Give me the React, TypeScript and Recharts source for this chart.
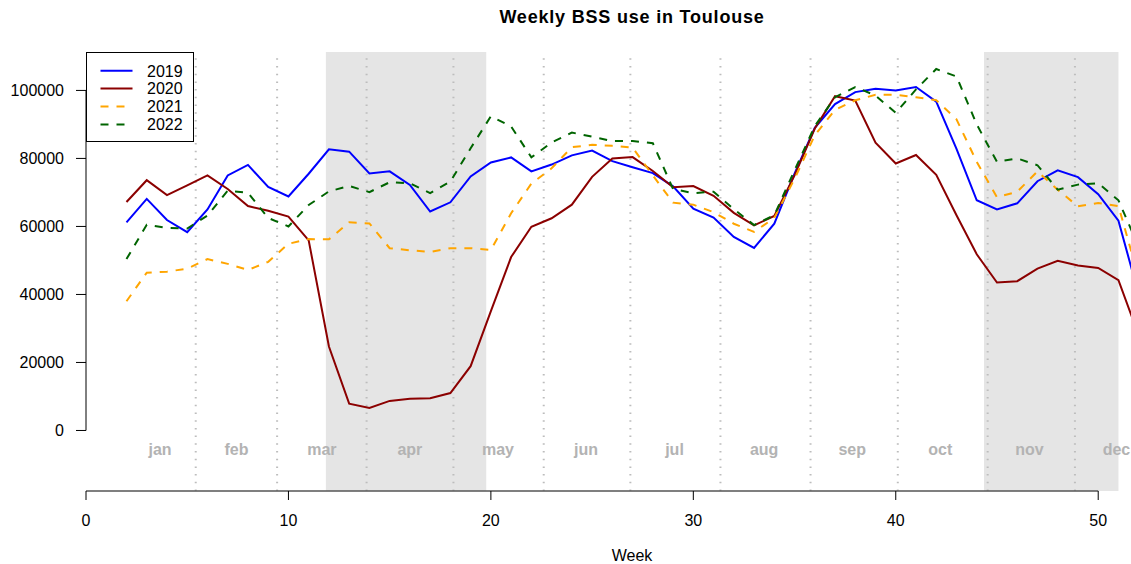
import { LineChart, Line, XAxis, YAxis, ReferenceArea, ReferenceLine, ReferenceDot } from "recharts";

const WEEKS = [2, 3, 4, 5, 6, 7, 8, 9, 10, 11, 12, 13, 14, 15, 16, 17, 18, 19, 20, 21, 22, 23, 24, 25, 26, 27, 28, 29, 30, 31, 32, 33, 34, 35, 36, 37, 38, 39, 40, 41, 42, 43, 44, 45, 46, 47, 48, 49, 50, 51, 52];

const Y2019 = [61200, 68100, 61900, 58300, 65000, 75000, 78100, 71600, 68800, 75500, 82700, 82000, 75600, 76200, 72200, 64400, 67100, 74700, 78800, 80300, 76200, 78200, 80900, 82300, 79200, 77400, 75700, 71800, 65200, 62600, 56900, 53700, 60800, 75500, 89000, 96000, 99500, 100500, 100000, 101000, 96700, 82800, 67700, 65000, 66800, 73300, 76500, 74500, 69500, 61700, 40000];
const Y2020 = [67200, 73600, 69200, 72100, 75000, 71000, 66000, 64600, 62900, 55900, 24700, 7900, 6600, 8700, 9300, 9500, 11000, 18900, 35100, 51000, 59900, 62400, 66400, 74600, 80000, 80400, 76300, 71500, 71900, 69000, 64000, 60300, 63100, 75000, 88800, 98300, 97000, 84600, 78500, 81000, 75200, 63300, 51800, 43500, 43900, 47600, 49900, 48500, 47800, 44200, 28000];
const Y2021 = [38000, 46400, 46700, 47600, 50400, 49000, 47200, 49600, 54900, 56300, 56200, 61200, 60900, 53600, 53000, 52500, 53600, 53600, 53100, 63900, 72600, 77100, 83300, 84000, 83700, 83200, 75000, 67000, 66400, 64200, 60800, 58400, 62500, 74000, 86800, 94300, 97100, 98700, 98700, 98000, 97100, 91500, 79000, 68600, 70200, 76200, 70800, 65900, 66900, 66000, 45000];
const Y2022 = [50400, 60500, 59600, 59400, 63200, 70500, 69900, 62500, 60000, 66300, 70300, 71900, 70100, 73000, 72700, 69800, 73200, 83000, 92400, 89400, 80300, 84700, 87600, 86400, 85100, 85100, 84500, 71000, 69800, 70200, 65100, 60400, 63300, 76500, 89500, 98000, 101000, 98500, 93400, 100300, 106300, 104100, 90000, 79000, 80000, 78000, 70800, 72300, 72700, 67700, 54000];

const SERIES = [
  { key: "y2019", name: "2019", values: Y2019, color: "#0000ff", dash: undefined as string | undefined },
  { key: "y2020", name: "2020", values: Y2020, color: "#8b0000", dash: undefined as string | undefined },
  { key: "y2021", name: "2021", values: Y2021, color: "#ffa500", dash: "8 8" },
  { key: "y2022", name: "2022", values: Y2022, color: "#006400", dash: "8 8" },
];

const MONTHS = ["jan", "feb", "mar", "apr", "may", "jun", "jul", "aug", "sep", "oct", "nov", "dec"];
const MONTH_POS = [3.66, 7.43, 11.65, 16.0, 20.35, 24.7, 29.07, 33.5, 37.85, 42.2, 46.6, 50.9];
const MONTH_BOUNDS = [5.42, 9.44, 13.86, 18.15, 22.61, 26.89, 31.34, 35.79, 40.1, 44.54, 48.85];
const SHADED = [
  [11.85, 19.77],
  [44.36, 51.0],
];
const MONTH_Y = -5500;

const X_TICKS = [0, 10, 20, 30, 40, 50];
const Y_TICKS = [0, 20000, 40000, 60000, 80000, 100000];
const X_DOMAIN: [number, number] = [0, 51.62];
const Y_DOMAIN: [number, number] = [-17800, 111300];

const data = WEEKS.map((week, i) => {
  const row: Record<string, number> = { week };
  SERIES.forEach((s) => (row[s.key] = s.values[i]));
  return row;
});

const FONT = '"Liberation Sans", Arial, Helvetica, sans-serif';

export default function App() {
  return (
    <div style={{ position: "absolute", left: 0, top: 0, width: 1131, height: 564, fontFamily: FONT, background: "#fff" }}>
      <LineChart width={1131} height={564} data={data} margin={{ top: 52, right: 0, bottom: 0, left: 0 }}>
        {SHADED.map(([a, b], i) => (
          <ReferenceArea key={"s" + i} x1={a} x2={b} y1={Y_DOMAIN[0]} y2={Y_DOMAIN[1]} fill="#e5e5e5" fillOpacity={1} stroke="none" />
        ))}
        {MONTH_BOUNDS.map((v) => (
          <ReferenceLine key={"b" + v} x={v} stroke="#bdbdbd" strokeWidth={2} strokeDasharray="1.5 6.2" />
        ))}
        {MONTHS.map((m, i) => (
          <ReferenceDot
            key={m}
            x={MONTH_POS[i]}
            y={MONTH_Y}
            r={1}
            fill="none"
            stroke="none"
            ifOverflow="visible"
            label={{ value: m, position: "center", fill: "#b3b3b3", fontSize: 16, fontWeight: "bold" }}
          />
        ))}
        <XAxis
          type="number"
          dataKey="week"
          domain={X_DOMAIN}
          allowDataOverflow
          ticks={X_TICKS}
          height={73}
          axisLine={false}
          tickSize={9}
          tickMargin={15}
          tickLine={{ stroke: "#000" }}
          tick={{ fill: "#000", fontSize: 16 }}
        />
        <YAxis
          type="number"
          domain={Y_DOMAIN}
          allowDataOverflow
          ticks={Y_TICKS}
          width={86}
          axisLine={false}
          tickSize={10}
          tickMargin={12}
          tickLine={{ stroke: "#000" }}
          tick={{ fill: "#000", fontSize: 16 }}
        />
        <ReferenceLine segment={[{ x: 0, y: 0 }, { x: 0, y: 100000 }]} stroke="#000" strokeWidth={1} />
        <ReferenceLine segment={[{ x: 0, y: Y_DOMAIN[0] }, { x: 50, y: Y_DOMAIN[0] }]} stroke="#555" strokeWidth={1.3} />
        {SERIES.map((s) => (
          <Line
            key={s.key}
            type="linear"
            dataKey={s.key}
            name={s.name}
            stroke={s.color}
            strokeWidth={2}
            strokeDasharray={s.dash}
            dot={false}
            activeDot={false}
            isAnimationActive={false}
          />
        ))}
      </LineChart>
      <svg width={1131} height={564} style={{ position: "absolute", left: 0, top: 0, pointerEvents: "none" }}>
        <text x={632} y={23} textAnchor="middle" fontWeight="bold" fontSize={18} letterSpacing={0.8} fill="#000">
          Weekly BSS use in Toulouse
        </text>
        <text x={632} y={561} textAnchor="middle" fontSize={16} fill="#000">
          Week
        </text>
        <rect x={86.5} y={52.5} width={107} height={89} fill="#fff" stroke="#000" />
        {SERIES.map((s, i) => {
          const y = 70.7 + i * 17.9;
          return (
            <g key={s.key}>
              <line x1={100.5} x2={132.5} y1={y} y2={y} stroke={s.color} strokeWidth={2} strokeDasharray={s.dash} />
              <text x={147} y={y + 5.8} fontSize={16} fill="#000">
                {s.name}
              </text>
            </g>
          );
        })}
      </svg>
    </div>
  );
}
